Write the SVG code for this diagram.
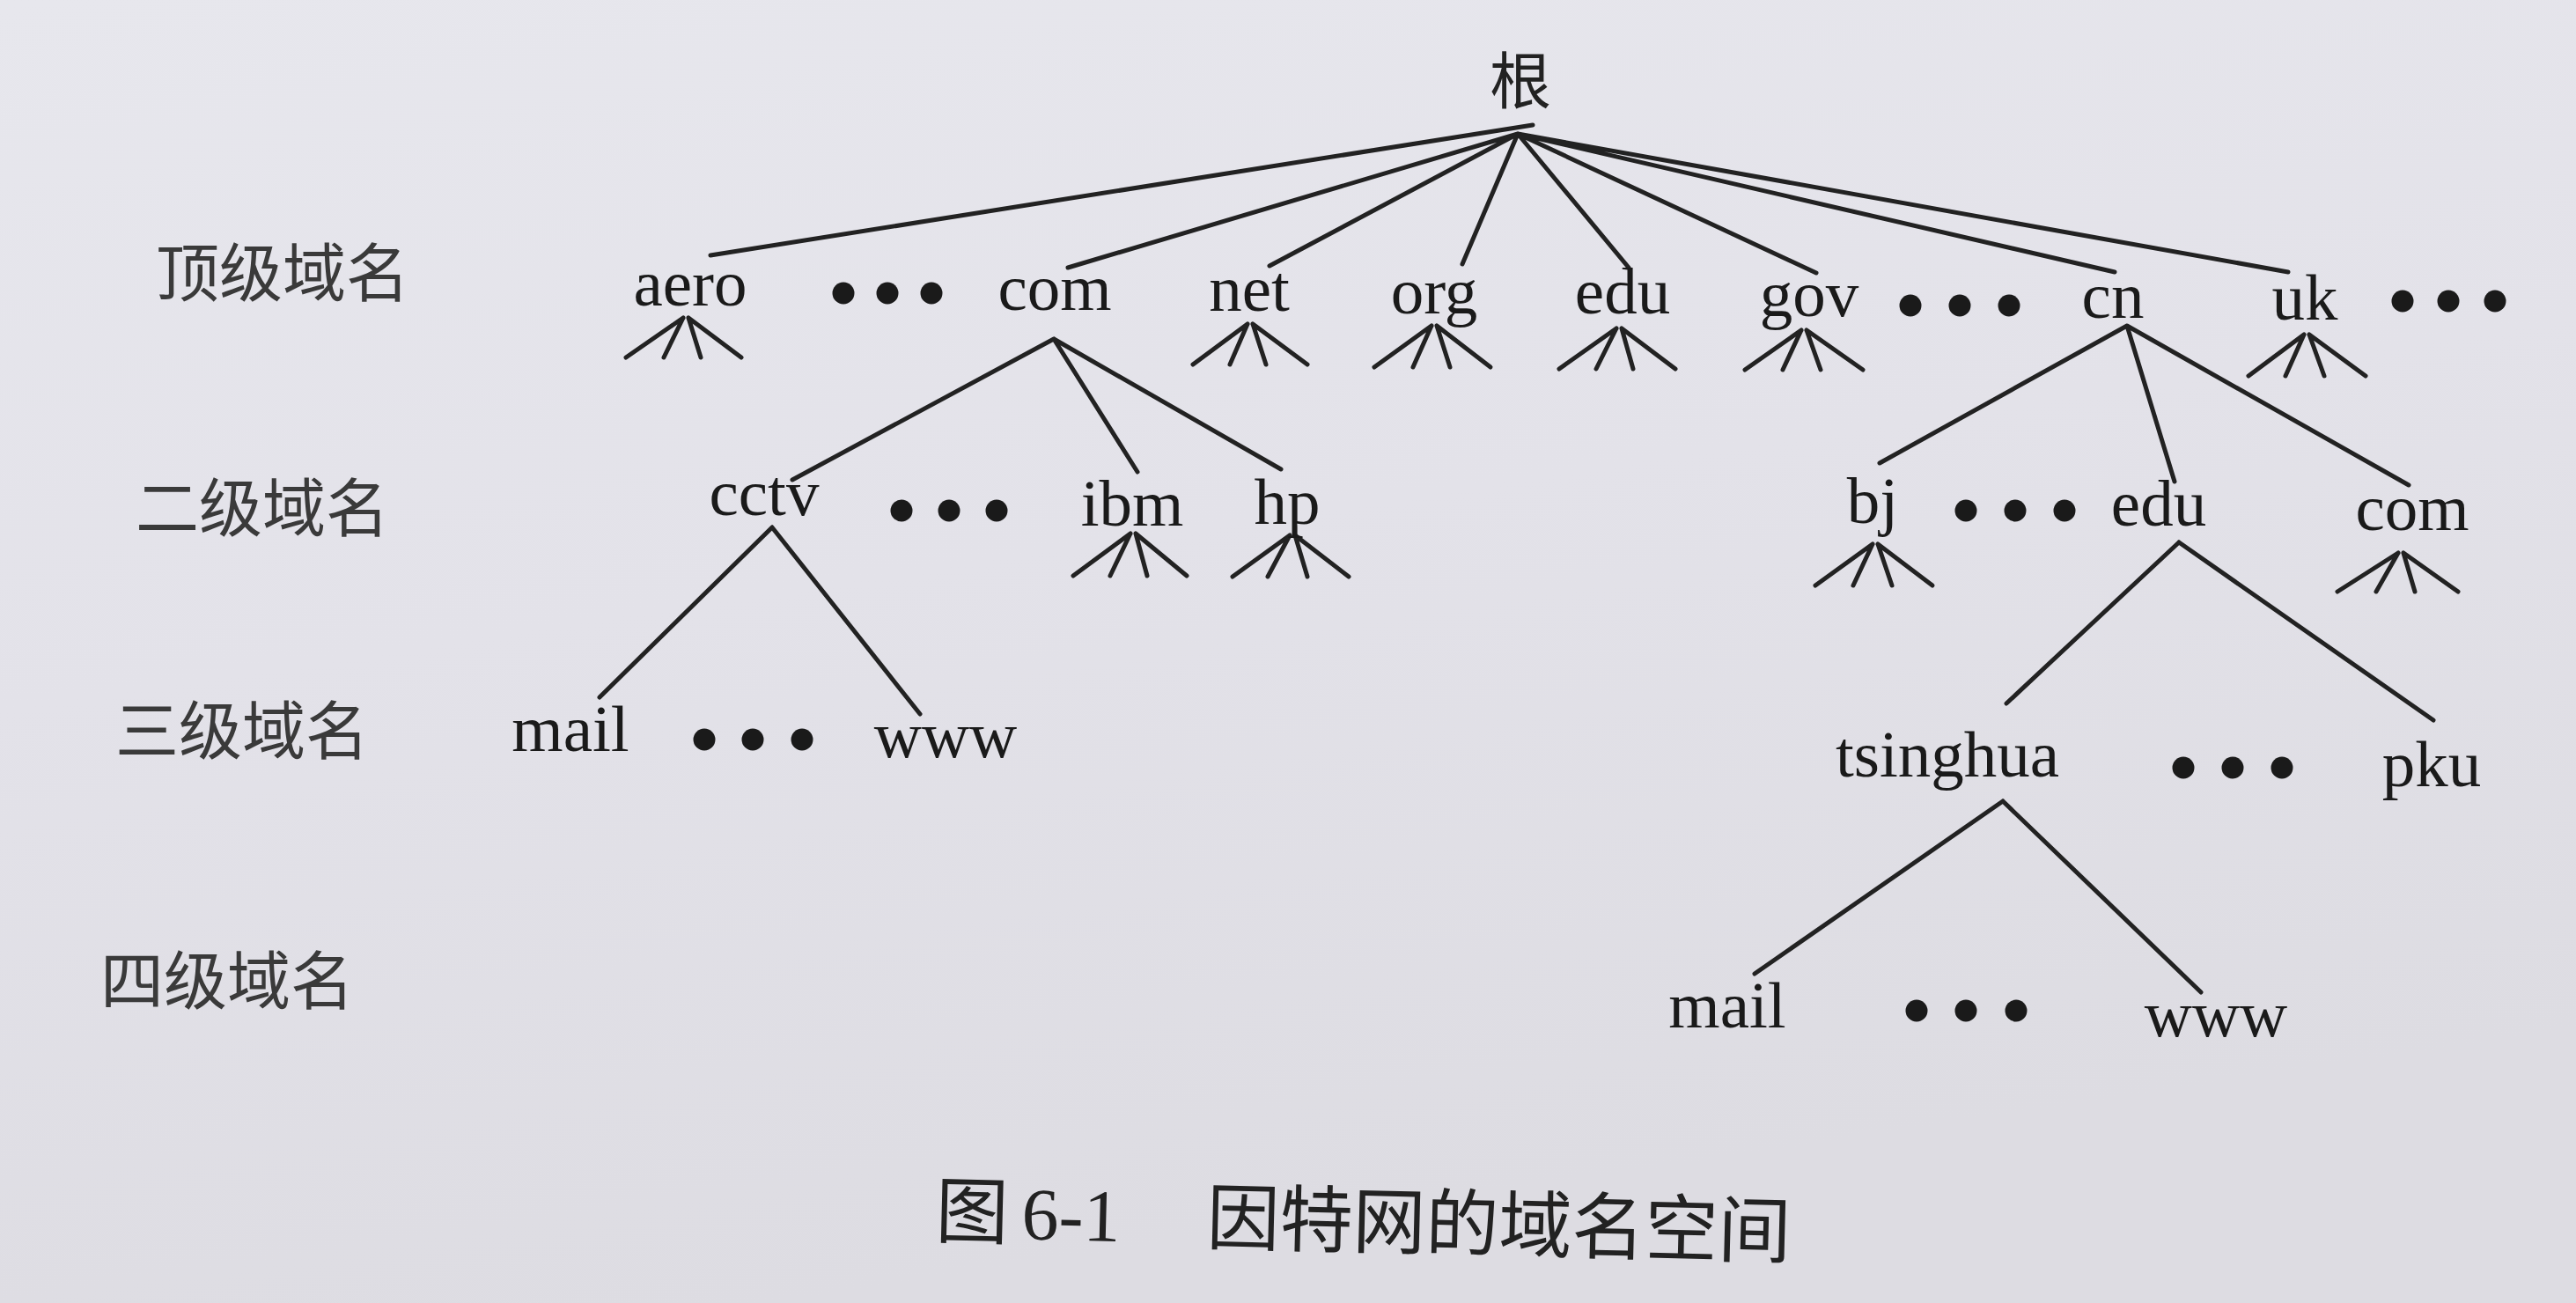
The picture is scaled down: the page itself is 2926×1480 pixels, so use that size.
<svg xmlns="http://www.w3.org/2000/svg" width="2926" height="1480" viewBox="0 0 2926 1480">
<defs>
<linearGradient id="bg" x1="0" y1="0" x2="0.3" y2="1">
<stop offset="0" stop-color="#e7e7ed"/>
<stop offset="0.5" stop-color="#e3e2e9"/>
<stop offset="1" stop-color="#dddce2"/>
</linearGradient>
<style>
.t{font-family:"Liberation Serif","Times New Roman",serif;font-size:75px;fill:#1a1a1a;text-anchor:middle}
.zh{font-family:"Noto Sans CJK SC","Noto Sans CJK JP",sans-serif;font-size:72px;fill:#3a3a3a}
.root{font-family:"Noto Sans CJK SC",sans-serif;font-size:70px;fill:#222;text-anchor:middle}
.cap{font-family:"Noto Sans CJK SC",sans-serif;font-size:83px;fill:#222}
.capn{font-family:"Liberation Serif",serif;font-size:84px;fill:#222}
.e{stroke:#222;stroke-width:5;fill:none;stroke-linecap:round}
.d{fill:#1a1a1a}
</style>
</defs>
<rect width="2926" height="1480" fill="url(#bg)"/>

<g id="levels">
<text class="zh" x="177" y="336">顶级域名</text>
<text class="zh" x="154" y="603">二级域名</text>
<text class="zh" x="131" y="856">三级域名</text>
<text class="zh" x="114" y="1140">四级域名</text>
</g>

<g id="connectors">
<path class="e" d="M1741 142 L807 290 M1724 152 L1213 304 M1724 152 L1442 302 M1724 152 L1661 300 M1724 152 L1850 304 M1724 152 L2063 310 M1724 152 L2402 309 M1724 152 L2599 309"/>
<path class="e" d="M1197 385 L900 545 M1197 385 L1292 536 M1197 385 L1455 533"/>
<path class="e" d="M877 599 L681 792 M877 599 L1045 811"/>
<path class="e" d="M2416 370 L2135 526 M2416 370 L2470 547 M2416 370 L2736 551"/>
<path class="e" d="M2475 616 L2279 799 M2475 616 L2764 818"/>
<path class="e" d="M2275 910 L1993 1106 M2275 910 L2500 1127"/>
<g id="stubs">
<path class="e" d="M776 361 L711 406 M776 361 L754 406 M782 361 L796 406 M782 361 L842 406"/>
<path class="e" d="M1417 368 L1355 414 M1417 368 L1397 414 M1423 368 L1438 414 M1423 368 L1485 414"/>
<path class="e" d="M1626 370 L1561 417 M1626 370 L1605 417 M1632 370 L1647 417 M1632 370 L1693 417"/>
<path class="e" d="M1836 373 L1771 419 M1836 373 L1813 419 M1842 373 L1855 419 M1842 373 L1903 419"/>
<path class="e" d="M2046 375 L1982 420 M2046 375 L2025 420 M2052 375 L2068 420 M2052 375 L2116 420"/>
<path class="e" d="M2617 380 L2554 427 M2617 380 L2596 427 M2623 380 L2640 427 M2623 380 L2687 427"/>
<path class="e" d="M1284 606 L1219 654 M1284 606 L1261 654 M1290 606 L1303 654 M1290 606 L1348 654"/>
<path class="e" d="M1465 608 L1400 655 M1465 608 L1440 655 M1471 608 L1485 655 M1471 608 L1532 655"/>
<path class="e" d="M2127 618 L2062 665 M2127 618 L2105 665 M2133 618 L2149 665 M2133 618 L2195 665"/>
<path class="e" d="M2724 628 L2655 672 M2724 628 L2699 672 M2730 628 L2743 672 M2730 628 L2792 672"/>
</g>
</g>

<g id="root"><text class="root" x="1727" y="118">根</text></g>

<g id="aero"><text class="t" x="784" y="347">aero</text></g>
<g id="dots-top-1"><circle class="d" cx="958" cy="333" r="12.5"/><circle class="d" cx="1008" cy="333" r="12.5"/><circle class="d" cx="1058" cy="333" r="12.5"/></g>
<g id="com"><text class="t" x="1198" y="352">com</text></g>
<g id="net"><text class="t" x="1419" y="353">net</text></g>
<g id="org"><text class="t" x="1629" y="356">org</text></g>
<g id="edu"><text class="t" x="1843" y="356">edu</text></g>
<g id="gov"><text class="t" x="2055" y="359">gov</text></g>
<g id="dots-top-2"><circle class="d" cx="2170" cy="347" r="12.5"/><circle class="d" cx="2226" cy="347" r="12.5"/><circle class="d" cx="2282" cy="347" r="12.5"/></g>
<g id="cn"><text class="t" x="2400" y="361">cn</text></g>
<g id="uk"><text class="t" x="2618" y="363">uk</text></g>
<g id="dots-top-3"><circle class="d" cx="2729" cy="342" r="12.5"/><circle class="d" cx="2781" cy="342" r="12.5"/><circle class="d" cx="2834" cy="342" r="12.5"/></g>

<g id="cctv"><text class="t" x="868" y="585">cctv</text></g>
<g id="dots-com"><circle class="d" cx="1024" cy="580" r="12.5"/><circle class="d" cx="1078" cy="580" r="12.5"/><circle class="d" cx="1132" cy="580" r="12.5"/></g>
<g id="ibm"><text class="t" x="1286" y="597">ibm</text></g>
<g id="hp"><text class="t" x="1462" y="595">hp</text></g>

<g id="mail-cctv"><text class="t" x="648" y="853">mail</text></g>
<g id="dots-cctv"><circle class="d" cx="800" cy="840" r="12.5"/><circle class="d" cx="855" cy="840" r="12.5"/><circle class="d" cx="911" cy="840" r="12.5"/></g>
<g id="www-cctv"><text class="t" x="1074" y="860">www</text></g>

<g id="bj"><text class="t" x="2127" y="594">bj</text></g>
<g id="dots-cn"><circle class="d" cx="2233" cy="580" r="12.5"/><circle class="d" cx="2289" cy="580" r="12.5"/><circle class="d" cx="2345" cy="580" r="12.5"/></g>
<g id="edu-cn"><text class="t" x="2452" y="597">edu</text></g>
<g id="com-cn"><text class="t" x="2740" y="602">com</text></g>

<g id="tsinghua"><text class="t" x="2212" y="882">tsinghua</text></g>
<g id="dots-edu"><circle class="d" cx="2480" cy="872" r="12.5"/><circle class="d" cx="2536" cy="872" r="12.5"/><circle class="d" cx="2592" cy="872" r="12.5"/></g>
<g id="pku"><text class="t" x="2762" y="893">pku</text></g>

<g id="mail-tsinghua"><text class="t" x="1962" y="1167">mail</text></g>
<g id="dots-tsinghua"><circle class="d" cx="2177" cy="1148" r="12.5"/><circle class="d" cx="2233" cy="1148" r="12.5"/><circle class="d" cx="2290" cy="1148" r="12.5"/></g>
<g id="www-tsinghua"><text class="t" x="2517" y="1177">www</text></g>

<g id="caption" transform="rotate(1.4 1067 1405)">
<text class="cap" x="1062" y="1405">图</text>
<text class="capn" x="1160" y="1405">6-1</text>
<text class="cap" x="1370" y="1405">因特网的域名空间</text>
</g>
</svg>
